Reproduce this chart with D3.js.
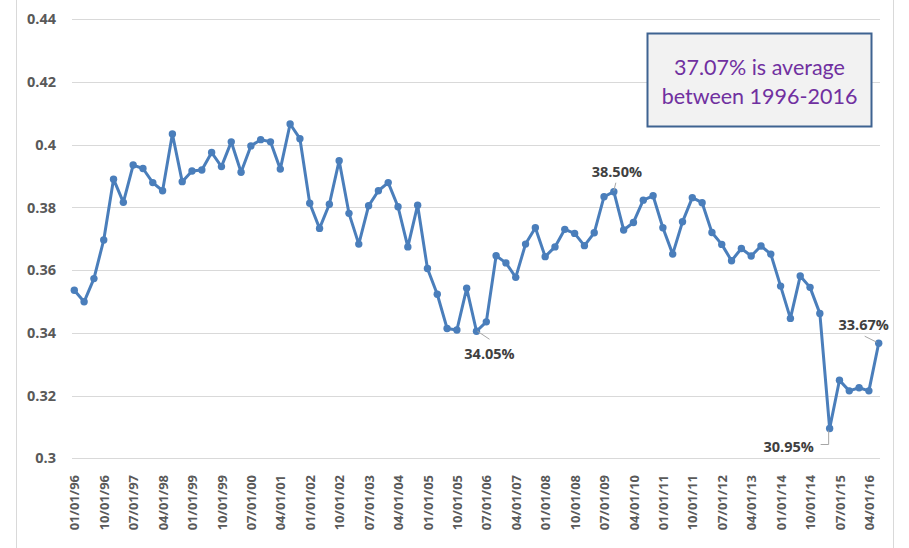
<!DOCTYPE html>
<meta charset="utf-8">
<script src="https://d3js.org/d3.v7.min.js"></script>
<style>
  body { margin: 0; background: #fff; }
</style>
<div id="chart"></div>
<script>

// quarterly values, 01/01/96 .. 07/01/16
var values = [
  0.3536, 0.3499, 0.3573, 0.3696, 0.3890, 0.3816, 0.3935, 0.3924, 0.3879, 0.3853,
  0.4034, 0.3882, 0.3916, 0.3919, 0.3975, 0.3930, 0.4009, 0.3912, 0.3996, 0.4016,
  0.4009, 0.3922, 0.4066, 0.4019, 0.3813, 0.3733, 0.3810, 0.3949, 0.3781, 0.3683,
  0.3805, 0.3853, 0.3879, 0.3802, 0.3674, 0.3807, 0.3605, 0.3523, 0.3414, 0.3409,
  0.3542, 0.3405, 0.3435, 0.3646, 0.3623, 0.3577, 0.3683, 0.3735, 0.3643, 0.3674,
  0.3730, 0.3717, 0.3678, 0.3719, 0.3834, 0.3850, 0.3728, 0.3752, 0.3823, 0.3837,
  0.3735, 0.3651, 0.3754, 0.3831, 0.3815, 0.3720, 0.3682, 0.3630, 0.3669, 0.3645,
  0.3677, 0.3651, 0.3549, 0.3446, 0.3581, 0.3545, 0.3462, 0.3095, 0.3249, 0.3215,
  0.3225, 0.3215, 0.3367
];

// category labels (first day of each quarter)
var categories = [];
for (var yr = 1996; yr <= 2016; yr++) {
  ["01", "04", "07", "10"].forEach(function(m) {
    if (categories.length < values.length) categories.push(m + "/01/" + String(yr).slice(2));
  });
}

// axis labels shown on the chart
var xTickLabels = ["01/01/96", "10/01/96", "07/01/97", "04/01/98", "01/01/99", "10/01/99",
  "07/01/00", "04/01/01", "01/01/02", "10/01/02", "07/01/03", "04/01/04", "01/01/05",
  "10/01/05", "07/01/06", "04/01/07", "01/01/08", "10/01/08", "07/01/09", "04/01/10",
  "01/01/11", "10/01/11", "07/01/12", "04/01/13", "01/01/14", "10/01/14", "07/01/15", "04/01/16"];
var yTicks = [0.30, 0.32, 0.34, 0.36, 0.38, 0.40, 0.42, 0.44];

// labelled points: index, text, label offset, leader line
var callouts = [
  {i: 41, text: "34.05%", dx: 13, dy: 23, lead: [[1, 0], [13, 8]]},
  {i: 55, text: "38.50%", dx: 3, dy: -20, lead: [[0, -1], [2, -9]]},
  {i: 77, text: "30.95%", dx: -41, dy: 18, lead: [[-1, 2], [-1, 16], [-9, 16]]},
  {i: 82, text: "33.67%", dx: -15, dy: -18, lead: [[-2, -1], [-14, -7]]}
];

var averageNote = ["37.07% is average", "between 1996-2016"];

var width = 909, height = 548;

var svg = d3.select("#chart")
  .append("svg")
  .attr("width", width)
  .attr("height", height);

// chart area border (left & right edges visible)
svg.append("line").attr("x1", 16.5).attr("x2", 16.5).attr("y1", 0).attr("y2", height)
  .style("stroke", "#d9d9d9");
svg.append("line").attr("x1", 893.5).attr("x2", 893.5).attr("y1", 0).attr("y2", height)
  .style("stroke", "#d9d9d9");

var x = d3.scalePoint()
  .domain(d3.range(values.length))
  .range([74.3, 878.7]);

var y = d3.scaleLinear()
  .domain([0.30, 0.44])
  .range([458.3, 19.2]);

// gridlines
svg.selectAll(".grid")
  .data(yTicks)
  .enter()
  .append("line")
  .attr("class", "grid")
  .attr("x1", 72)
  .attr("x2", 880)
  .attr("y1", function(d) { return Math.round(y(d)) + 0.5; })
  .attr("y2", function(d) { return Math.round(y(d)) + 0.5; })
  .style("stroke", "#d9d9d9")
  .style("stroke-width", 1);

// y axis labels
var yAxis = svg.append("g")
  .attr("transform", "translate(72,0)")
  .call(d3.axisLeft(y).tickValues(yTicks).tickSize(0).tickPadding(16)
    .tickFormat(function(d) { return String(+d.toFixed(2)); }));
yAxis.select(".domain").remove();
yAxis.selectAll("text")
  .attr("font-family", "Open Sans, sans-serif")
  .attr("font-weight", 700)
  .attr("font-size", 14.5)
  .attr("fill", "#595959");

// x axis labels
var tickIdx = xTickLabels.map(function(l) { return categories.indexOf(l); });
var xAxis = svg.append("g")
  .attr("transform", "translate(0,466)")
  .call(d3.axisBottom(x).tickValues(tickIdx).tickSize(0)
    .tickFormat(function(i) { return categories[i]; }));
xAxis.select(".domain").remove();
xAxis.selectAll("text")
  .attr("font-family", "Open Sans, sans-serif")
  .attr("font-weight", 700)
  .attr("font-size", 13)
  .attr("fill", "#595959")
  .attr("transform", "rotate(-90)")
  .attr("x", -9)
  .attr("y", 0)
  .attr("dy", "0.35em")
  .style("text-anchor", "end");

// line
var line = d3.line()
  .x(function(d, i) { return x(i); })
  .y(function(d) { return y(d); });

svg.append("path")
  .datum(values)
  .attr("d", line)
  .style("fill", "none")
  .style("stroke", "#4a7ebb")
  .style("stroke-width", 3)
  .style("stroke-linejoin", "round");

svg.selectAll(".dot")
  .data(values)
  .enter()
  .append("circle")
  .attr("class", "dot")
  .attr("cx", function(d, i) { return x(i); })
  .attr("cy", function(d) { return y(d); })
  .attr("r", 3.7)
  .style("fill", "#4a7ebb");

// data callouts
callouts.forEach(function(c) {
  var px = x(c.i), py = y(values[c.i]);
  svg.append("polyline")
    .attr("points", c.lead.map(function(p) { return (px + p[0]) + "," + (py + p[1]); }).join(" "))
    .style("fill", "none")
    .style("stroke", "#a6a6a6")
    .style("stroke-width", 1);
  svg.append("text")
    .attr("x", px + c.dx)
    .attr("y", py + c.dy)
    .attr("dy", "0.35em")
    .attr("text-anchor", "middle")
    .attr("font-family", "Open Sans, sans-serif")
    .attr("font-weight", 700)
    .attr("font-size", 14.5)
    .attr("fill", "#404040")
    .text(c.text);
});

// average note box
svg.append("rect")
  .attr("x", 647.5)
  .attr("y", 33.5)
  .attr("width", 224)
  .attr("height", 93)
  .style("fill", "#f2f2f2")
  .style("stroke", "#3e6391")
  .style("stroke-width", 2);

svg.selectAll(".note")
  .data(averageNote)
  .enter()
  .append("text")
  .attr("class", "note")
  .attr("x", 759.5)
  .attr("y", function(d, i) { return 67 + i * 29; })
  .attr("dy", "0.35em")
  .attr("text-anchor", "middle")
  .attr("font-family", "Lato, sans-serif")
  .attr("font-size", 21.5)
  .attr("fill", "#7030a0")
  .text(function(d) { return d; });

</script>
